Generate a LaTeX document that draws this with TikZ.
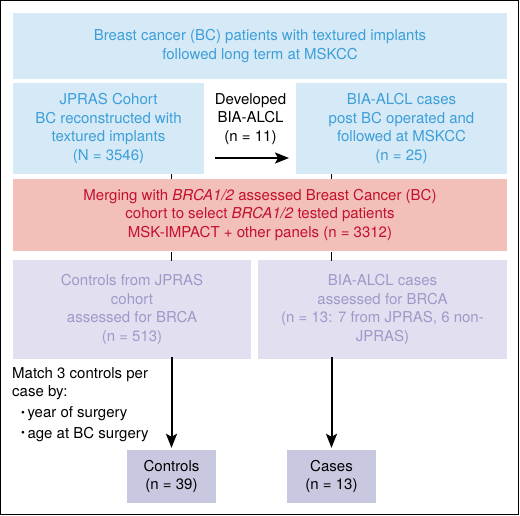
\documentclass[tikz,border=0pt]{standalone}
\usepackage{fontspec}
\setmainfont{TeX Gyre Heros}
\usetikzlibrary{arrows.meta}

\definecolor{bcfill}{HTML}{D6E9F7}
\definecolor{bctext}{HTML}{3C9FD8}
\definecolor{mergefill}{HTML}{F2C0B8}
\definecolor{mergetext}{HTML}{C3102F}
\definecolor{poolfill}{HTML}{E2DFF1}
\definecolor{pooltext}{HTML}{9E9AC8}
\definecolor{finalfill}{HTML}{C9C8E1}

\newcommand{\boxfont}{\fontsize{15}{18.8}\selectfont}
\newcommand{\smallbullet}{{\fontsize{11}{11}\selectfont\raisebox{1.2pt}{\textbullet}}}

\tikzset{
  box/.style={rectangle, inner sep=0pt, align=center, font=\boxfont},
  bluebox/.style={box, fill=bcfill, text=bctext},
  mergebox/.style={box, fill=mergefill, text=mergetext},
  poolbox/.style={box, fill=poolfill, text=pooltext},
  finalbox/.style={box, fill=finalfill, text=black, minimum width=89pt, minimum height=53pt},
  tick/.style={line width=1.8pt},
  flow/.style={line width=2pt, -{Stealth[length=14pt, width=11pt, inset=3pt]}},
}

\begin{document}
\begin{tikzpicture}[x=1pt, y=-1pt]
    \useasboundingbox (0,0) rectangle (520,516);
    \draw[line width=1.4pt] (0.8,0.8) rectangle (518.6,514.6);

    \node[bluebox, minimum width=494pt, minimum height=66pt] (top) at (260,46)
        {Breast cancer (BC) patients with textured implants\\followed long term at MSKCC};
    \node[bluebox, minimum width=191pt, minimum height=91pt] (jpras) at (108.5,128.5)
        {JPRAS Cohort\\BC reconstructed with\\textured implants\\(N = 3546)};
    \node[bluebox, minimum width=211pt, minimum height=91pt] (bia) at (401.5,128.5)
        {BIA-ALCL cases\\post BC operated and\\followed at MSKCC\\(n = 25)};
    \node[box] (dev) at (250.5,119) {Developed\\BIA-ALCL\\(n = 11)};

    \node[mergebox, minimum width=494pt, minimum height=72pt] (merge) at (260,215)
        {Merging with \textit{BRCA1/2} assessed Breast Cancer (BC)\\cohort to select \textit{BRCA1/2} tested patients\\MSK-IMPACT + other panels (n = 3312)};

    \node[poolbox, minimum width=238pt, minimum height=99pt] (ctrlpool) at (132,309.5)
        {Controls from JPRAS\\cohort\\assessed for BRCA\\(n = 513)};
    \node[poolbox, minimum width=249pt, minimum height=99pt] (casepool) at (382.5,309.5)
        {BIA-ALCL cases\\assessed for BRCA\\(n = 13: 7 from JPRAS, 6 non-\\JPRAS)};

    \node[finalbox] (controls) at (171.5,476.5) {Controls\\(n = 39)};
    \node[finalbox] (cases) at (331.5,476.5) {Cases\\(n = 13)};

    \node[box, align=left, anchor=north west] (match) at (12,367)
        {Match 3 controls per\\case by:\\[1.5pt]
         \hspace*{9pt}\smallbullet\,year of surgery\\[2pt]
         \hspace*{9pt}\smallbullet\,age at BC surgery};

    % connectors
    \coordinate (devstart) at (215,158);
    \coordinate (devend) at (289,158);
    \draw[flow] (devstart) -- (devend);

    \draw[tick] (jpras.south -| controls) -- (merge.north -| controls);
    \draw[tick] (bia.south -| cases) -- (merge.north -| cases);
    \draw[tick] ([yshift=-1pt]merge.south -| controls) -- ([yshift=-1pt]ctrlpool.north -| controls);
    \draw[tick] ([yshift=-1pt]merge.south -| cases) -- ([yshift=-1pt]casepool.north -| cases);

    \draw[flow] ([yshift=2pt]ctrlpool.south -| controls) -- ([yshift=2pt]controls.north);
    \draw[flow] ([yshift=2pt]casepool.south -| cases) -- ([yshift=2pt]cases.north);
\end{tikzpicture}
\end{document}
